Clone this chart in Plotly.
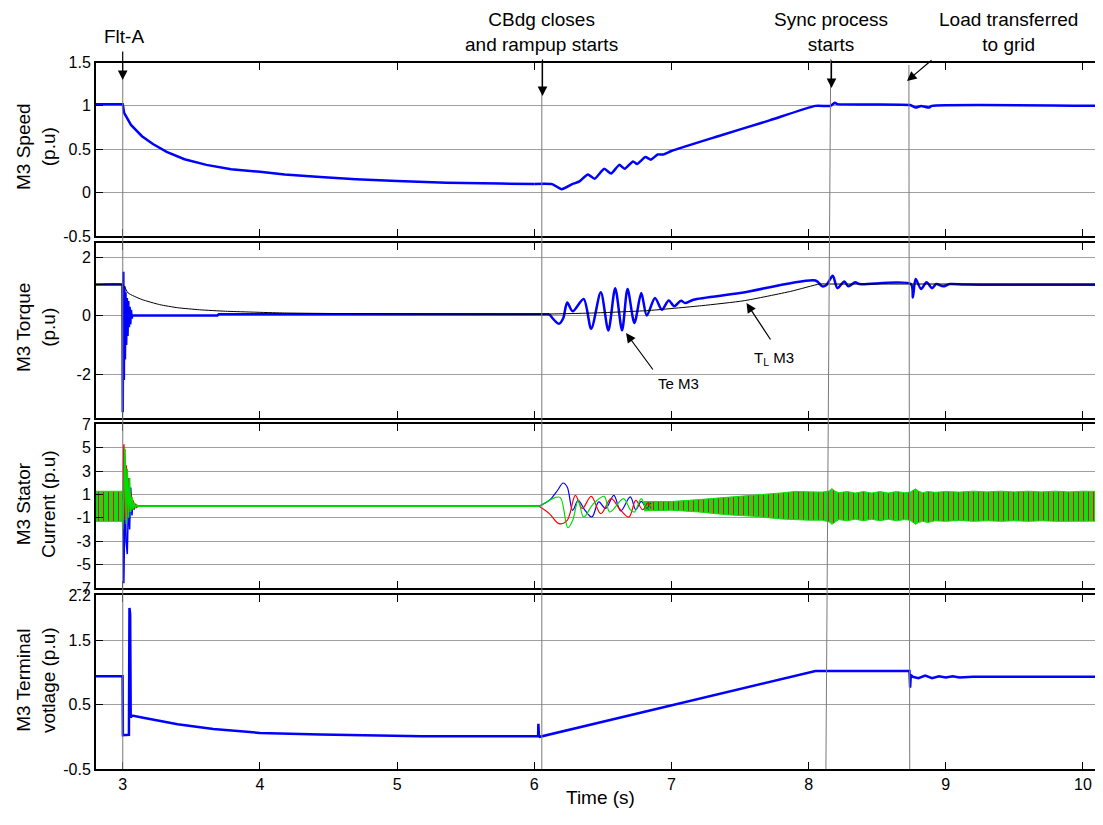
import plotly.graph_objects as go

# ---------------- data ----------------
# Panel 1: M3 speed (p.u)
speed_t = [2.805, 3.0, 3.01, 3.06, 3.14, 3.22, 3.32, 3.45, 3.61, 3.79, 4.0, 4.18, 4.44, 4.70, 5.0,
           5.36, 5.75, 6.0, 6.13, 6.20, 6.28, 6.33, 6.39, 6.44, 6.51, 6.56, 6.62, 6.66, 6.72, 6.75,
           6.81, 6.85, 6.90, 6.94, 7.00, 7.34, 7.71, 8.05, 8.16, 8.19, 8.21, 8.74, 8.78, 8.82,
           8.875, 8.90, 10.146]
speed_v = [1.02, 1.02, 0.92, 0.78, 0.65, 0.56, 0.47, 0.385, 0.32, 0.27, 0.24, 0.21, 0.18, 0.155, 0.135,
           0.115, 0.104, 0.10, 0.098, 0.04, 0.10, 0.13, 0.21, 0.16, 0.275, 0.22, 0.32, 0.275, 0.36, 0.33,
           0.41, 0.38, 0.44, 0.44, 0.48, 0.65, 0.83, 1.0, 1.0, 1.035, 1.02, 1.01, 0.98, 1.0,
           0.98, 1.0, 1.0]

# Panel 2: electromagnetic torque Te and load torque TL (p.u)
te_fault_t = [2.805, 2.998, 3.000, 3.004, 3.008, 3.012, 3.016, 3.020, 3.025, 3.030, 3.035, 3.040,
              3.045, 3.050, 3.055, 3.060, 3.065, 3.070, 3.69, 3.70, 4.5, 5.3, 6.0, 6.11]
te_fault_v = [1.06, 1.06, -3.3, 1.5, -2.2, 1.0, -1.5, 0.8, -1.0, 0.6, -0.7, 0.5,
              -0.4, 0.3, -0.3, 0.2, -0.1, 0.0, 0.0, 0.05, 0.05, 0.05, 0.05, 0.05]
te_t = [6.11, 6.18, 6.21, 6.24, 6.28, 6.36, 6.415, 6.485, 6.54, 6.59, 6.64, 6.68, 6.73, 6.78,
        6.82, 6.88, 6.93, 6.98, 7.02, 7.07, 7.10, 7.16, 7.50, 8.05, 8.10, 8.13, 8.176, 8.21, 8.26,
        8.29, 8.34, 8.37, 8.745, 8.76, 8.78, 8.82, 8.86, 8.90, 8.93, 8.98, 9.03, 9.14, 10.146]
te_v = [0.05, -0.28, -0.1, 0.45, 0.15, 0.57, -0.45, 0.80, -0.51, 0.94, -0.50, 0.91, -0.25, 0.77,
        0.0, 0.60, 0.2, 0.52, 0.32, 0.51, 0.43, 0.545, 0.77, 1.20, 1.0, 1.05, 1.36, 0.94, 1.17,
        1.0, 1.14, 1.08, 1.08, 0.62, 1.25, 0.91, 1.14, 0.94, 1.08, 1.0, 1.08, 1.06, 1.06]
tl_t = [2.805, 3.0, 3.04, 3.14, 3.27, 3.40, 3.56, 3.75, 4.18, 4.6, 5.0, 6.035, 6.43, 6.82, 7.22,
        7.53, 7.87, 8.08, 8.15, 10.146]
tl_v = [1.06, 1.06, 0.77, 0.55, 0.375, 0.27, 0.20, 0.15, 0.09, 0.07, 0.06, 0.05, 0.09, 0.17, 0.34,
        0.51, 0.83, 1.08, 1.08, 1.08]

# Panel 3: stator currents (p.u)
# dense steady-state oscillation drawn as its envelope (upper / lower)
pre_band_t = [2.805, 3.0]
pre_band_hi = [1.27, 1.27]
pre_band_lo = [-1.3, -1.3]
band_t = [6.80, 7.00, 7.20, 7.40, 7.60, 7.80, 7.90, 8.00, 8.10, 8.15, 8.17, 8.19, 8.22, 8.28, 8.34,
          8.40, 8.46, 8.52, 8.58, 8.64, 8.70, 8.74, 8.76, 8.78, 8.80, 8.83, 8.87, 8.92, 9.0, 9.1,
          9.2, 9.3, 9.4, 9.5, 9.6, 9.7, 9.8, 9.9, 10.0, 10.146]
band_hi = [0.40, 0.40, 0.56, 0.73, 0.93, 1.13, 1.25, 1.20, 1.20, 1.30, 1.50, 1.30, 1.15, 1.25, 1.12,
           1.25, 1.12, 1.25, 1.12, 1.25, 1.15, 1.20, 1.35, 1.48, 1.30, 1.15, 1.25, 1.18, 1.25, 1.20,
           1.28, 1.22, 1.28, 1.22, 1.28, 1.22, 1.28, 1.22, 1.28, 1.25]
band_lo = [-0.40, -0.35, -0.50, -0.73, -0.87, -1.10, -1.16, -1.20, -1.20, -1.35, -1.55, -1.35, -1.15,
           -1.25, -1.12, -1.25, -1.12, -1.25, -1.12, -1.25, -1.15, -1.20, -1.40, -1.56, -1.40, -1.30,
           -1.40, -1.25, -1.30, -1.22, -1.30, -1.25, -1.30, -1.25, -1.30, -1.25, -1.30, -1.25, -1.30,
           -1.28]
# fault transient per phase
fault_t = [2.995, 3.000, 3.008, 3.017, 3.025, 3.033, 3.042, 3.050, 3.058, 3.067, 3.075, 3.083,
           3.092, 3.10, 3.11, 3.12, 3.14, 6.035]
ia_fault = [1.0, 1.0, -6.6, 1.2, -3.1, -4.1, 0.6, -2.0, 1.6, -0.8, 0.4, -0.3, 0.15, -0.1, 0, 0, 0, 0]
ib_fault = [-1.0, -1.0, 5.3, -1.2, 3.5, -0.8, 2.4, -0.5, 1.2, -0.3, 0.5, -0.2, 0.2, -0.1, 0.05, 0, 0, 0]
ic_fault = [0.5, -2.0, 1.0, 4.9, -1.5, 3.2, -1.0, 2.4, -0.5, 0.8, -0.3, 0.3, -0.15, 0.1, 0, 0, 0, 0]
# re-energisation transient per phase
ia_t = [6.035, 6.11, 6.17, 6.21, 6.24, 6.28, 6.32, 6.37, 6.42, 6.47, 6.52, 6.58, 6.63, 6.70, 6.74, 6.78, 6.82, 6.85]
ia_v = [0, 0.5, 1.36, 1.98, 1.64, -0.36, 0.5, -0.36, -0.93, 0.36, -0.2, 0.93, -0.4, 0.79, -0.3, 0.4, -0.2, 0.3]
ib_t = [6.035, 6.11, 6.18, 6.24, 6.30, 6.35, 6.415, 6.485, 6.56, 6.62, 6.69, 6.74, 6.79, 6.83, 6.85]
ib_v = [0, -0.64, -1.5, -1.21, 0.93, -0.2, 0.84, -0.64, 0.64, -0.2, -0.93, 0.5, -0.3, 0.3, -0.2]
ic_t = [6.035, 6.09, 6.15, 6.19, 6.245, 6.28, 6.32, 6.36, 6.43, 6.51, 6.55, 6.65, 6.70, 6.73, 6.78, 6.82, 6.85]
ic_v = [0, 0.36, 0.73, 0.73, -1.84, -1.21, 0.5, -0.93, 0.2, 0.84, -0.5, 0.64, -0.3, -0.5, 0.64, -0.3, 0.2]

# Panel 4: terminal voltage (p.u)
volt_t = [2.805, 2.999, 3.001, 3.045, 3.049, 3.054, 3.058, 3.07, 3.14, 3.40, 3.66, 4.0, 4.44,
          4.70, 5.18, 6.0, 6.028, 6.030, 6.034, 6.04, 8.05, 8.735, 8.74, 8.745, 8.76, 8.80, 8.85,
          8.90, 8.95, 9.0, 9.05, 9.1, 9.2, 10.146]
volt_v = [0.94, 0.94, 0.025, 0.03, 2.0, 1.9, 0.3, 0.33, 0.30, 0.195, 0.12, 0.06, 0.035,
          0.025, 0.01, 0.01, 0.01, 0.2, 0.01, 0.0, 1.02, 1.02, 0.76, 0.96, 0.93, 0.91, 0.95,
          0.91, 0.94, 0.92, 0.94, 0.92, 0.93, 0.93]

# events
event_times_top = [3.0, 6.055, 8.161, 8.731]
event_times_bottom = [3.0, 6.055, 8.126, 8.737]

x_ticks = [3, 4, 5, 6, 7, 8, 9, 10]
x_range = [2.805, 10.146]
y1_ticks = [-0.5, 0, 0.5, 1, 1.5]
y2_ticks = [-2, 0, 2]
y3_ticks = [-7, -5, -3, -1, 1, 3, 5, 7]
y4_ticks = [-0.5, 0.5, 1.5, 2.2]

# ---------------- figure ----------------
# the page body has an 8 px margin, so the figure is drawn 8 px smaller and
# all screen positions below are given in window pixels and shifted by OFF
OFF = 8
W, H = 1103 - OFF, 825 - OFF
L = 96 - OFF
FONT = "Liberation Sans, Arial, sans-serif"


def px(x):
    return (x - OFF - L) / (W - L)


def py(y):
    return 1 - (y - OFF) / H


BLUE = "#0000ff"
fig = go.Figure()

# panel 1 (decay drawn with straight segments, post-reclose part smoothed)
k = speed_t.index(6.0)
fig.add_trace(go.Scatter(x=speed_t[:k + 1], y=speed_v[:k + 1], mode="lines",
                         line=dict(color=BLUE, width=2.5), xaxis="x", yaxis="y"))
fig.add_trace(go.Scatter(x=speed_t[k:], y=speed_v[k:], mode="lines",
                         line=dict(color=BLUE, width=2.5, shape="spline", smoothing=0.5),
                         xaxis="x", yaxis="y"))
# panel 2
fig.add_trace(go.Scatter(x=te_fault_t, y=te_fault_v, mode="lines", line=dict(color=BLUE, width=2.5),
                         xaxis="x2", yaxis="y2"))
fig.add_trace(go.Scatter(x=te_t, y=te_v, mode="lines", line=dict(color=BLUE, width=2.5, shape="spline", smoothing=0.8),
                         xaxis="x2", yaxis="y2"))
fig.add_trace(go.Scatter(x=tl_t, y=tl_v, mode="lines", line=dict(color="black", width=1, shape="spline", smoothing=0.5),
                         xaxis="x2", yaxis="y2"))

# panel 3 - envelope bands
pattern = dict(shape="|", fgcolor="#ff0000", bgcolor="#12dc12", size=5, solidity=0.2, fillmode="replace")
for bt, bh, bl in [(pre_band_t, pre_band_hi, pre_band_lo), (band_t, band_hi, band_lo)]:
    fig.add_trace(go.Scatter(x=bt + bt[::-1], y=bh + bl[::-1], mode="lines", fill="toself",
                             fillcolor="#12dc12", fillpattern=pattern,
                             line=dict(color="#12dc12", width=1), xaxis="x3", yaxis="y3"))
for ft, fv, col in [(fault_t, ia_fault, "#0000ff"), (fault_t, ib_fault, "#ff0000"), (fault_t, ic_fault, "#00dd00")]:
    fig.add_trace(go.Scatter(x=ft, y=fv, mode="lines", line=dict(color=col, width=1.5),
                             xaxis="x3", yaxis="y3"))
for tt, tv, col in [(ia_t, ia_v, "#0000ff"), (ib_t, ib_v, "#ff0000"), (ic_t, ic_v, "#00dd00")]:
    fig.add_trace(go.Scatter(x=tt, y=tv, mode="lines", line=dict(color=col, width=1.2, shape="spline", smoothing=1.0),
                             xaxis="x3", yaxis="y3"))

# panel 4
fig.add_trace(go.Scatter(x=volt_t, y=volt_v, mode="lines", line=dict(color=BLUE, width=2.5),
                         xaxis="x4", yaxis="y4"))

domains = [
    [py(236), py(62.5)],
    [py(418), py(242.5)],
    [py(588), py(424.3)],
    [py(769), py(595)],
]
yranges = [[-0.5, 1.5], [-3.5, 2.5], [-7, 7], [-0.5, 2.2]]
yticks = [y1_ticks, y2_ticks, y3_ticks, y4_ticks]
ytext = [["-0.5", "0", "0.5", "1", "1.5"], ["-2", "0", "2"],
         ["-7", "-5", "-3", "-1", "1", "3", "5", "7"], ["-0.5", "0.5", "1.5", "2.2"]]

layout = dict(
    width=W, height=H, margin=dict(l=L, r=0, t=0, b=0, autoexpand=False),
    paper_bgcolor="white", plot_bgcolor="white", showlegend=False,
    font=dict(family=FONT, size=16, color="black"),
)
for i in range(4):
    n = "" if i == 0 else str(i + 1)
    layout["xaxis" + n] = dict(
        domain=[0, 1], anchor="y" + n, range=x_range, tickvals=x_ticks, automargin=False,
        showticklabels=(i == 3), ticks="inside", ticklen=7, tickwidth=1, tickcolor="black",
        showline=True, linewidth=2, linecolor="black", mirror="allticks",
        showgrid=False, zeroline=False, tickfont=dict(size=16),
        **({} if i == 3 else {"matches": "x4"}),
    )
    layout["yaxis" + n] = dict(
        domain=domains[i], anchor="x" + n, range=yranges[i], tickvals=yticks[i], ticktext=ytext[i],
        automargin=False,
        ticks="inside", ticklen=7, tickwidth=1, tickcolor="black",
        showline=True, linewidth=2, linecolor="black", mirror="allticks",
        showgrid=True, gridcolor="#a0a0a0", gridwidth=1, zeroline=False, tickfont=dict(size=16),
    )
fig.update_layout(**layout)

# event lines
shapes = []
tops = [62.5, 62.5, 59, 65]
for tt, tb, yt in zip(event_times_top, event_times_bottom, tops):
    shapes.append(dict(type="line", xref="x4", yref="paper", x0=tt, x1=tb, y0=py(yt), y1=py(769),
                       line=dict(color="#7a7a7a", width=1), layer="above"))
fig.update_layout(shapes=shapes)

ann = []
ann_font = dict(family=FONT, size=19, color="black")
for txt, x, y in [("Flt-A", 124, 37), ("CBdg closes<br>and rampup starts", 541, 32),
                  ("Sync process<br>starts", 831, 32), ("Load transferred<br>to grid", 1008, 32)]:
    ann.append(dict(text=txt, x=px(x), y=py(y), xref="paper", yref="paper", showarrow=False,
                    font=ann_font, xanchor="center", yanchor="middle", align="center"))
# arrows (tip, offsets)
for (tx, ty, ax, ay) in [(122.7, 80, 0, -30), (542.5, 96, 0, -38), (831.5, 88, 0, -29),
                         (907, 81, 26, -22), (626, 333, 28, 38), (746.5, 303, 25, 38)]:
    ann.append(dict(text="", x=px(tx), y=py(ty), xref="paper", yref="paper", showarrow=True,
                    ax=ax, ay=ay, arrowhead=2, arrowsize=1.6, arrowwidth=1.2, arrowcolor="black"))
small = dict(family=FONT, size=15, color="black")
ann.append(dict(text="Te M3", x=px(678), y=py(383), xref="paper", yref="paper", showarrow=False, font=small))
ann.append(dict(text="T<sub>L</sub> M3", x=px(796), y=py(359), xref="paper", yref="paper", showarrow=False, font=small))
# y titles
ytitle_font = dict(family=FONT, size=19, color="black")
for txt, yc in [("M3 Speed<br>(p.u)", 147), ("M3 Torque<br>(p.u)", 328),
                ("M3 Stator<br>Current (p.u)", 504), ("M3 Terminal<br>votlage (p.u)", 680)]:
    ann.append(dict(text=txt, x=px(36), y=py(yc), xref="paper", yref="paper", showarrow=False,
                    textangle=-90, font=ytitle_font, xanchor="center", yanchor="middle", align="center"))
ann.append(dict(text="Time (s)", x=px(600), y=py(810), xref="paper", yref="paper", showarrow=False,
                font=dict(family=FONT, size=19, color="black")))
fig.update_layout(annotations=ann)

fig.write_html("out.html")
